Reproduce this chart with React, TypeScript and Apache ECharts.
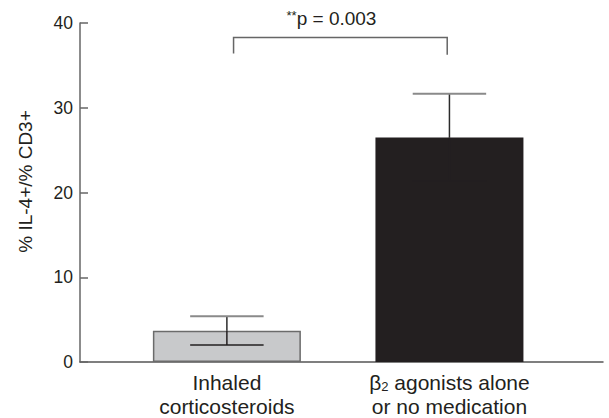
import React, { useEffect, useRef } from "react";
import * as echarts from "echarts";

// ---- data ----
const categories = ["Inhaled\ncorticosteroids", "β2 agonists alone\nor no medication"];
const means = [3.7, 26.5];
const sems = [1.7, 5.15];
const barColors = ["#c8c9cb", "#231f20"];
const yTicks = [0, 10, 20, 30, 40];
const sigLabel = "**p = 0.003";
const sigFrom = 0;
const sigTo = 1;
const sigTop = 38.3;
const sigLegEnd = 36.4;
const sigTextY = 40.5;

const FONT = "'Liberation Sans', Arial, sans-serif";

function labelFor(v: number): string {
  const name = categories[Math.round(v)] || "";
  if (name.startsWith("β2")) {
    const rest = name.slice(2);
    const [l1, l2] = rest.split("\n");
    return `{b|β}{sub|2}{n|${l1}}\n{n|${l2}}`;
  }
  return name
    .split("\n")
    .map((s) => `{n|${s}}`)
    .join("\n");
}

export default function App() {
  const ref = useRef<HTMLDivElement>(null);
  useEffect(() => {
    if (!ref.current) return;
    const chart = echarts.init(ref.current, null, { renderer: "svg" });
    const idx = categories.map((_, i) => i);
    const option: any = {
      animation: false,
      backgroundColor: "#ffffff",
      grid: { left: 80, right: 6, top: 23, bottom: 56, containLabel: false },
      xAxis: {
        type: "value",
        min: -0.66,
        max: 1.69,
        splitLine: { show: false },
        axisLine: { show: true, onZero: false, lineStyle: { color: "#555", width: 1.5 } },
        axisTick: { show: false },
        axisLabel: {
          customValues: idx,
          margin: 8,
          color: "#231f20",
          fontFamily: FONT,
          fontSize: 21,
          lineHeight: 24,
          formatter: (v: number) => labelFor(v),
          rich: {
            n: { fontSize: 21, fontFamily: FONT, color: "#231f20", lineHeight: 24 },
            b: { fontSize: 21, fontFamily: FONT, color: "#231f20", lineHeight: 24 },
            sub: { fontSize: 13, fontFamily: FONT, color: "#231f20", lineHeight: 24, padding: [9, 0, 0, 0] },
          },
        },
      },
      yAxis: {
        type: "value",
        min: yTicks[0],
        max: yTicks[yTicks.length - 1],
        interval: yTicks[1] - yTicks[0],
        name: "% IL-4+/% CD3+",
        nameLocation: "middle",
        nameGap: 45,
        nameTextStyle: {
          fontFamily: FONT,
          fontSize: 19,
          color: "#231f20",
          padding: [0, 0, 0, 22],
        },
        splitLine: { show: false },
        axisLine: { show: true, onZero: false, lineStyle: { color: "#666", width: 1.5 } },
        axisTick: { show: true, inside: true, length: 8, lineStyle: { color: "#666", width: 1.5 } },
        axisLabel: { margin: 7, color: "#231f20", fontFamily: FONT, fontSize: 17.5 },
      },
      series: [
        {
          type: "bar",
          barWidth: 148,
          data: means.map((m, i) => ({
            value: [i, m],
            itemStyle: {
              color: barColors[i],
              borderColor: i === 0 ? "#6b6b6b" : barColors[i],
              borderWidth: i === 0 ? 1.5 : 0,
            },
          })),
          z: 2,
        },
        {
          type: "custom",
          z: 3,
          clip: false,
          data: means.map((m, i) => [i, m, sems[i]]),
          renderItem: (params: any, api: any) => {
            const x = api.value(0);
            const m = api.value(1);
            const s = api.value(2);
            const top = api.coord([x, m + s]);
            const mid = api.coord([x, m]);
            const bot = api.coord([x, m - s]);
            const half = api.size([1, 0])[0] * 0.165;
            return {
              type: "group",
              children: [
                {
                  type: "line",
                  shape: { x1: top[0], y1: top[1], x2: mid[0], y2: mid[1] },
                  style: { stroke: "#2b2b2b", lineWidth: 1.5 },
                },
                {
                  type: "line",
                  shape: { x1: mid[0], y1: mid[1], x2: bot[0], y2: bot[1] },
                  style: { stroke: "#231f20", lineWidth: 1.5 },
                },
                {
                  type: "line",
                  shape: { x1: top[0] - half, y1: top[1], x2: top[0] + half, y2: top[1] },
                  style: { stroke: "#8a8a8a", lineWidth: 2 },
                },
                {
                  type: "line",
                  shape: { x1: bot[0] - half, y1: bot[1], x2: bot[0] + half, y2: bot[1] },
                  style: { stroke: "#231f20", lineWidth: 1.5 },
                },
              ],
            };
          },
        },
        {
          type: "custom",
          z: 3,
          clip: false,
          data: [[sigFrom, sigTo, sigTop, sigLegEnd, sigTextY]],
          renderItem: (params: any, api: any) => {
            const a = api.value(0) + 0.03;
            const b = api.value(1) - 0.01;
            const pTopL = api.coord([a, api.value(2)]);
            const pTopR = api.coord([b, api.value(2)]);
            const pLegL = api.coord([a, api.value(3)]);
            const pLegR = api.coord([b, api.value(3) - 0.15]);
            const t = api.coord([(api.value(0) + api.value(1)) / 2 - 0.03, api.value(4)]);
            return {
              type: "group",
              children: [
                {
                  type: "polyline",
                  shape: { points: [pLegL, pTopL, pTopR, pLegR] },
                  style: { stroke: "#666", lineWidth: 1.5, fill: "none" },
                },
                {
                  type: "text",
                  x: t[0],
                  y: t[1],
                  style: {
                    text: "{s|" + sigLabel.slice(0, 2) + "}{t|" + sigLabel.slice(2) + "}",
                    align: "center",
                    verticalAlign: "middle",
                    rich: {
                      s: { fontFamily: FONT, fontSize: 13, fill: "#231f20", padding: [0, 0, 6, 0] },
                      t: { fontFamily: FONT, fontSize: 19, fill: "#231f20" },
                    },
                  },
                },
              ],
            };
          },
        },
      ],
    };
    chart.setOption(option);
    return () => chart.dispose();
  }, []);
  return (
    <div
      ref={ref}
      style={{ position: "absolute", left: 0, top: 0, width: 609, height: 418 }}
    />
  );
}
